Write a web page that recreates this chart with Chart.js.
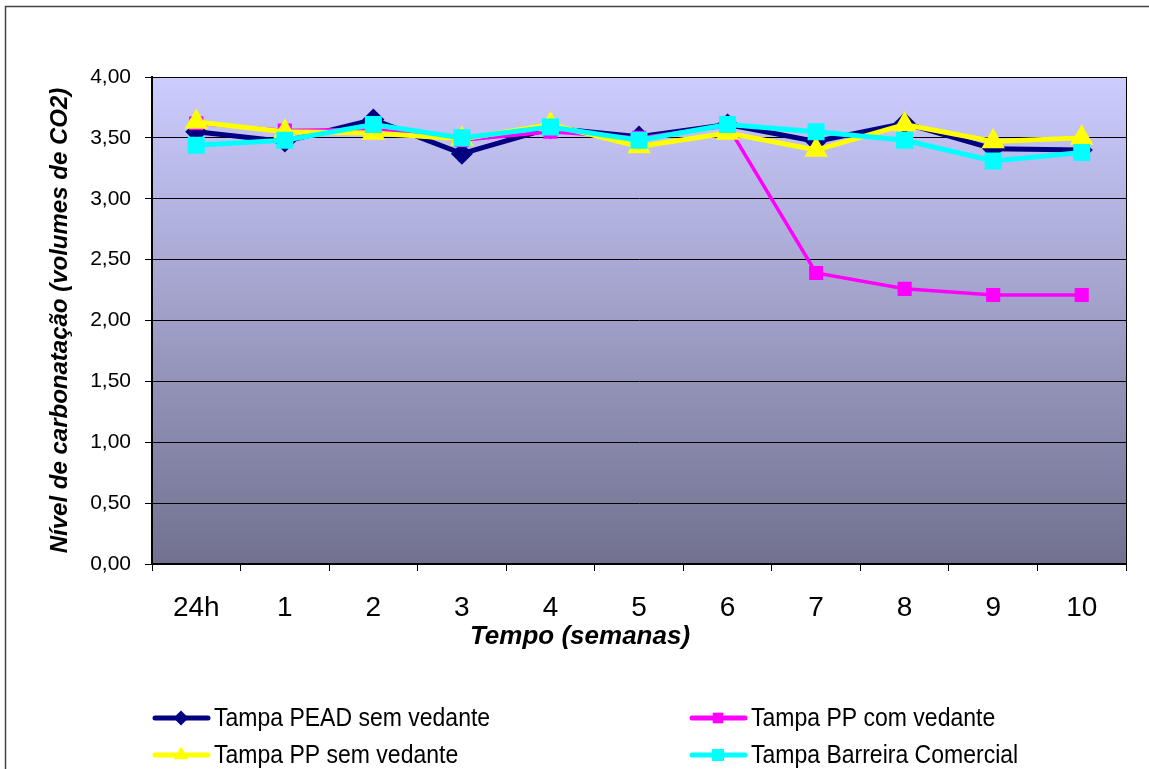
<!DOCTYPE html>
<html>
<head>
<meta charset="utf-8">
<script src="https://cdn.jsdelivr.net/npm/chart.js@4"></script>
<style>
  body { margin: 0; background: #fff; }
  canvas { display: block; }
</style>
</head>
<body>
<canvas id="chart" width="1149" height="769"></canvas>
<script>
// data
const tempos = ['24h', '1', '2', '3', '4', '5', '6', '7', '8', '9', '10'];
const peadSemVedante = [3.55, 3.47, 3.65, 3.37, 3.58, 3.51, 3.61, 3.47, 3.62, 3.41, 3.40];
const ppComVedante = [3.62, 3.56, 3.57, 3.48, 3.55, 3.50, 3.60, 2.39, 2.26, 2.21, 2.21];
const ppSemVedante = [3.63, 3.55, 3.54, 3.49, 3.61, 3.43, 3.54, 3.40, 3.61, 3.47, 3.50];
const barreiraComercial = [3.44, 3.48, 3.61, 3.50, 3.59, 3.48, 3.61, 3.55, 3.48, 3.31, 3.38];
const xTitle = 'Tempo (semanas)';

const FONT = '"Liberation Sans", Arial, sans-serif';

// plot background, outer frame, plot border
const backgroundPlugin = {
  id: 'background',
  beforeDraw(chart) {
    const { ctx, chartArea: a } = chart;
    ctx.save();
    ctx.fillStyle = '#fff';
    ctx.fillRect(0, 0, chart.width, chart.height);
    ctx.strokeStyle = '#444';
    ctx.lineWidth = 1.5;
    ctx.strokeRect(5.5, 6.5, 1300, 900);
    const g = ctx.createLinearGradient(0, a.top, 0, a.bottom);
    g.addColorStop(0, '#ccccff');
    g.addColorStop(1, '#71718f');
    ctx.fillStyle = g;
    ctx.fillRect(a.left, a.top, a.right - a.left, a.bottom - a.top);
    ctx.strokeStyle = '#000';
    ctx.lineWidth = 1;
    ctx.strokeRect(a.left + 0.5, a.top + 0.5, a.right - a.left, a.bottom - a.top);
    ctx.restore();
  }
};

// hand drawn legend in two columns, like the original
function drawMarker(ctx, style, x, y, r) {
  ctx.beginPath();
  if (style === 'rectRot') {
    ctx.moveTo(x, y - r); ctx.lineTo(x + r, y); ctx.lineTo(x, y + r); ctx.lineTo(x - r, y);
  } else if (style === 'triangle') {
    ctx.moveTo(x, y - r); ctx.lineTo(x + r * 0.87, y + r * 0.5); ctx.lineTo(x - r * 0.87, y + r * 0.5);
  } else {
    const s = r * Math.SQRT1_2;
    ctx.rect(x - s, y - s, 2 * s, 2 * s);
  }
  ctx.closePath();
  ctx.fill();
}

const legendPlugin = {
  id: 'twoColLegend',
  afterDraw(chart) {
    const { ctx } = chart;
    // x axis title, centred on the whole chart like the original (not on the plot)
    ctx.save();
    ctx.fillStyle = '#000';
    ctx.font = 'italic bold 26px ' + FONT;
    ctx.textAlign = 'center';
    ctx.textBaseline = 'middle';
    ctx.fillText(xTitle, 580, 637);
    ctx.restore();

    const cols = [153, 690];
    const rows = [718, 755];
    chart.data.datasets.forEach((ds, i) => {
      const x = cols[i % 2];
      const y = rows[Math.floor(i / 2)];
      ctx.save();
      ctx.strokeStyle = ds.borderColor;
      ctx.fillStyle = ds.borderColor;
      ctx.lineWidth = 5;
      ctx.lineCap = 'round';
      ctx.beginPath();
      ctx.moveTo(x + 2, y);
      ctx.lineTo(x + 55, y);
      ctx.stroke();
      drawMarker(ctx, ds.pointStyle, x + 28, y, ds.pointRadius);
      ctx.fillStyle = '#000';
      ctx.font = '25px ' + FONT;
      ctx.textBaseline = 'middle';
      ctx.translate(x + 61, y + 1);
      ctx.scale(0.92, 1);
      ctx.fillText(ds.label, 0, 0);
      ctx.restore();
    });
  }
};

new Chart(document.getElementById('chart'), {
  type: 'line',
  data: {
    labels: tempos,
    datasets: [
      {
        label: 'Tampa PEAD sem vedante',
        data: peadSemVedante,
        borderColor: '#000080',
        backgroundColor: '#000080',
        borderWidth: 5,
        pointStyle: 'rectRot',
        pointRadius: 7.5,
        order: 3
      },
      {
        label: 'Tampa PP com vedante',
        data: ppComVedante,
        borderColor: '#ff00ff',
        backgroundColor: '#ff00ff',
        borderWidth: 3.5,
        pointStyle: 'rect',
        pointRadius: 7.5,
        order: 2
      },
      {
        label: 'Tampa PP sem vedante',
        data: ppSemVedante,
        borderColor: '#ffff00',
        backgroundColor: '#ffff00',
        borderWidth: 5,
        pointStyle: 'triangle',
        pointRadius: 8.5,
        order: 1
      },
      {
        label: 'Tampa Barreira Comercial',
        data: barreiraComercial,
        borderColor: '#00ffff',
        backgroundColor: '#00ffff',
        borderWidth: 5,
        pointStyle: 'rect',
        pointRadius: 8.5,
        order: 0
      }
    ]
  },
  options: {
    responsive: false,
    animation: false,
    devicePixelRatio: 1,
    layout: { padding: { top: 77, right: 23, left: 0, bottom: 0 } },
    elements: { line: { tension: 0 }, point: { borderWidth: 0 } },
    plugins: {
      legend: { display: false },
      tooltip: { enabled: false }
    },
    scales: {
      x: {
        offset: true,
        grid: { offset: true, drawOnChartArea: false, color: '#000', tickLength: 7, tickColor: '#000' },
        border: { color: '#000', width: 2 },
        ticks: { color: '#000', font: { family: FONT, size: 28 }, padding: 20 },
        afterFit(scale) { scale.height = 205; }
      },
      y: {
        min: 0,
        max: 4,
        ticks: {
          stepSize: 0.5,
          color: '#000',
          font: { family: FONT, size: 21 },
          padding: 14,
          callback: v => v.toFixed(2).replace('.', ',')
        },
        grid: { color: '#000', lineWidth: 1, tickLength: 7 },
        border: { color: '#000', width: 2 },
        title: {
          display: true,
          text: 'Nível de carbonatação (volumes de CO2)',
          color: '#000',
          font: { family: FONT, size: 24, weight: 'bold', style: 'italic' },
          padding: { top: 46, bottom: 0 }
        },
        afterFit(scale) { scale.width = 152; }
      }
    }
  },
  plugins: [backgroundPlugin, legendPlugin]
});
</script>
</body>
</html>
